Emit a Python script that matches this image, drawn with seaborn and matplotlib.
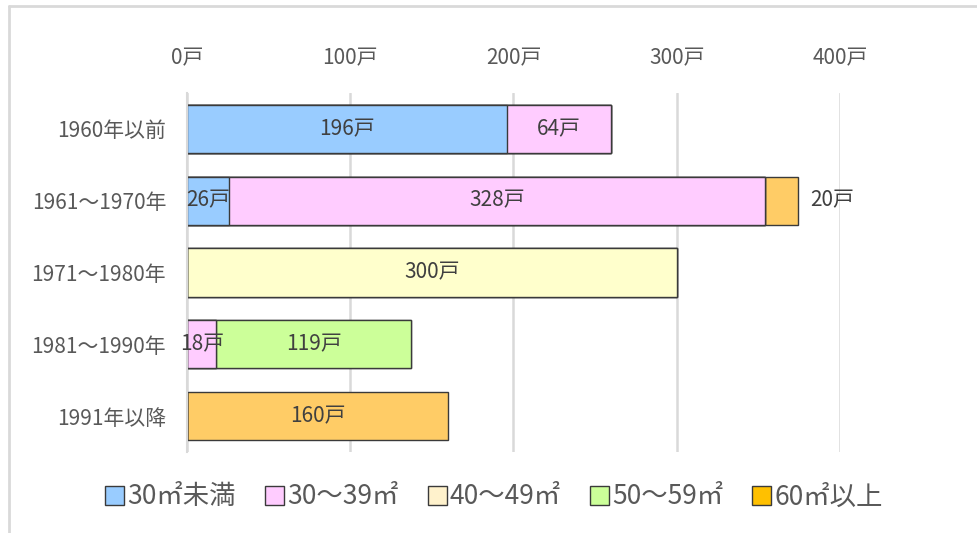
import numpy as np
import pandas as pd
import matplotlib
matplotlib.use("Agg")
import matplotlib.pyplot as plt
from matplotlib.lines import Line2D
from matplotlib.patches import Patch
import seaborn as sns

# Construction period categories (top to bottom)
periods = ["1960年以前", "1961～1970年", "1971～1980年", "1981～1990年", "1991年以降"]

# Dwelling counts per floor-area class
area_lt30 = [196, 26, 0, 0, 0]
area_30_39 = [64, 328, 0, 18, 0]
area_40_49 = [0, 0, 300, 0, 0]
area_50_59 = [0, 0, 0, 119, 0]
area_ge60 = [0, 20, 0, 0, 160]

series_names = ["30㎡未満", "30～39㎡", "40～49㎡", "50～59㎡", "60㎡以上"]
series_values = [area_lt30, area_30_39, area_40_49, area_50_59, area_ge60]
bar_colors = ["#99CCFF", "#FFCCFF", "#FFFFCC", "#CCFF99", "#FFCC66"]
legend_colors = ["#99CCFF", "#FFCCFF", "#FFF2CC", "#CCFF99", "#FFC000"]

x_ticks = [0, 100, 200, 300, 400]

sns.set_style("white")
plt.rcParams["font.family"] = ["Noto Sans CJK JP", "DejaVu Sans"]

TEXT = "#595959"
LABEL = "#404040"
GRID = "#D9D9D9"
FS = 15

fig = plt.figure(figsize=(9.78, 5.33), dpi=100)
ax = fig.add_axes([187 / 978, 1 - 452 / 533, (840 - 187) / 978, (452 - 93) / 533])

df = pd.DataFrame({name: vals for name, vals in zip(series_names, series_values)})
df["period"] = periods
cum = df[series_names].cumsum(axis=1)

# Stacked bars: draw cumulative totals from the outermost class inward
for i in range(len(series_names) - 1, -1, -1):
    sns.barplot(x=cum[series_names[i]], y=df["period"], orient="h",
                color=bar_colors[i], saturation=1, width=0.67,
                edgecolor="#3a3a3a", linewidth=1.0, ax=ax, zorder=2)

# Value labels
for r, period in enumerate(periods):
    left = 0
    for i, name in enumerate(series_names):
        v = series_values[i][r]
        if v > 0:
            if name == "60㎡以上" and r == 1:
                ax.text(left + v + 8, r, f"{v}戸", ha="left", va="center",
                        fontsize=FS, color=LABEL, zorder=5)
            else:
                ax.text(left + v / 2, r, f"{v}戸", ha="center", va="center",
                        fontsize=FS, color=LABEL, zorder=5)
        left += v

ax.set_xlim(0, 400)
ax.set_ylim(len(periods) - 0.5, -0.5)
ax.xaxis.tick_top()
ax.set_xticks(x_ticks)
ax.set_xticklabels([f"{v}戸" for v in x_ticks], fontsize=FS, color=TEXT)
ax.tick_params(axis="x", length=0, pad=17)
ax.set_yticks(range(len(periods)))
ax.set_yticklabels(periods, fontsize=FS, color=TEXT)
ax.tick_params(axis="y", which="major", length=0, pad=15)
ax.set_yticks(np.arange(-0.5, len(periods), 1), minor=True)
ax.tick_params(axis="y", which="minor", length=6, width=1.5, color=GRID, direction="out")
ax.set_xlabel("")
ax.set_ylabel("")

ax.grid(axis="x", color=GRID, linewidth=1.8, zorder=0)
ax.set_axisbelow(True)
for s in ["top", "right", "bottom"]:
    ax.spines[s].set_visible(False)
ax.spines["left"].set_color(GRID)
ax.spines["left"].set_linewidth(1.5)

# Legend along the bottom
handles = [Patch(facecolor=c, edgecolor="#3a3a3a", linewidth=1.0) for c in legend_colors]
fig.legend(handles, series_names, loc="center", bbox_to_anchor=(494 / 978, 1 - 497 / 533),
           ncol=5, frameon=False, fontsize=19, labelcolor=TEXT,
           handlelength=0.72, handleheight=0.72, handletextpad=0.12, columnspacing=1.1)

# Chart frame
fig.add_artist(Line2D([9 / 978, 9 / 978], [0, 1 - 6 / 533], transform=fig.transFigure,
                      color=GRID, linewidth=2))
fig.add_artist(Line2D([9 / 978, 1], [1 - 6 / 533, 1 - 6 / 533], transform=fig.transFigure,
                      color=GRID, linewidth=2))

fig.savefig("out.png", dpi=100, facecolor="white")
